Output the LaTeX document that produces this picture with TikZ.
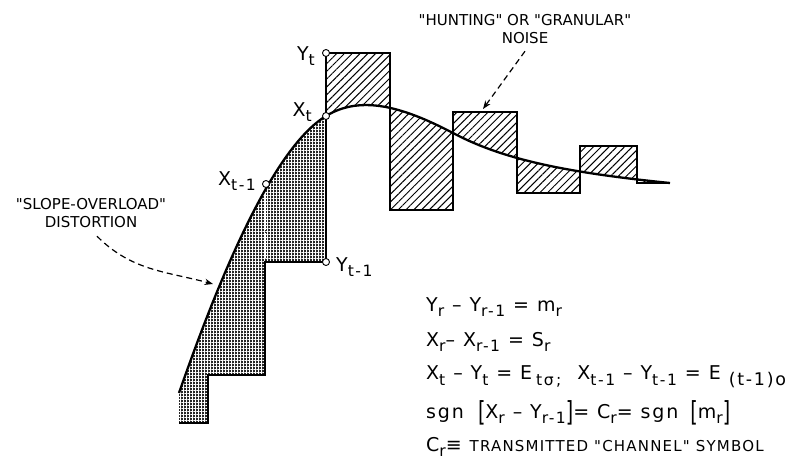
\documentclass[tikz,border=0pt]{standalone}
\usepackage{graphicx}
\usepackage{fontspec}
\newfontfamily\letterfont{DejaVu Sans}
\usetikzlibrary{arrows.meta,patterns.meta}

% lowered subscript, tall bracket
\newcommand{\sub}[1]{\raisebox{-0.55ex}{\scalebox{0.82}{#1}}}
\newcommand{\tallbr}[1]{\raisebox{-0.35ex}{\scalebox{1}[1.45]{#1}}}

\begin{document}
\begin{tikzpicture}[x=1pt, y=-1pt, >=Stealth, font=\letterfont\fontsize{15}{18}\selectfont,
    stairline/.style={line width=2.3pt, line join=miter},
    signalline/.style={line width=2.3pt},
    sample/.style={circle, draw, fill=white, line width=0.9pt, inner sep=0pt, minimum size=7pt},
    sym/.style={font=\letterfont\fontsize{19}{22}\selectfont\addfontfeature{LetterSpace=10}, inner sep=0pt},
    lead/.style={->, dash pattern=on 6pt off 4pt, line width=1.2pt}]
    \useasboundingbox (0,0) rectangle (794,468);
    % analogue signal and staircase approximation
    \def\signal{(179,393) .. controls (215,290) and (270,150) .. (326,116) .. controls (362,94) and (405,108) .. (453,133) .. controls (500,158) and (560,172) .. (670,183)}
    \def\stairs{(670,183) -- (637,183) -- (637,146) -- (580,146) -- (580,193) -- (517,193) -- (517,112) -- (453,112) -- (453,210) -- (390,210) -- (390,53) -- (326,53) -- (326,262) -- (265,262) -- (265,375) -- (208,375) -- (208,423) -- (179,423)}
    % slope overload area
    \begin{scope}
        \clip (0,0) rectangle (326,468);
        \fill[black!85] \signal -- \stairs -- cycle;
        \fill[pattern={Lines[angle=0, distance=3pt, line width=0.45pt]}, pattern color=white] \signal -- \stairs -- cycle;
        \fill[pattern={Lines[angle=90, distance=3pt, line width=0.45pt]}, pattern color=white] \signal -- \stairs -- cycle;
    \end{scope}
    \draw[white, line width=1.4pt, dash pattern=on 40pt off 3pt] (265,190) -- (265,258);
    % granular noise area
    \begin{scope}
        \clip (326,0) rectangle (794,468);
        \fill[pattern={Lines[angle=45, distance=5.5pt, line width=1pt]}] \signal -- \stairs -- cycle;
    \end{scope}
    \draw[stairline] \stairs;
    \draw[signalline] \signal;
    % sample points
    \node[sample] (yt) at (326,53) {};
    \node[sample] (xt) at (326,116) {};
    \node[sample] (xtp) at (266,184) {};
    \node[sample] (ytp) at (326,262) {};
    \node[sym, anchor=east] (ytlabel) at ([xshift=-7pt, yshift=-3pt]yt.west) {Y\sub{t}};
    \node[sym, anchor=east] (xtlabel) at ([xshift=-10pt, yshift=4pt]xt.west) {X\sub{t}};
    \node[sym, anchor=east] (xtplabel) at ([xshift=-6pt, yshift=3pt]xtp.west) {X\sub{t-1}};
    \node[sym, anchor=west] (ytplabel) at ([xshift=6pt, yshift=-5pt]ytp.east) {Y\sub{t-1}};
    % annotations
    \node[align=center] (noiselabel) at (525,29) {"HUNTING" OR "GRANULAR"\\NOISE};
    \node[align=center] (slopelabel) at (91,213) {"SLOPE-OVERLOAD"\\DISTORTION};
    \coordinate (noisetip) at (483,109);
    \coordinate (slopetip) at (213,284);
    \draw[lead] ([yshift=-4pt]noiselabel.south) -- (noisetip);
    \draw[lead] ([xshift=6pt, yshift=-5pt]slopelabel.south) to[out=-45, in=165] (slopetip);
    % relations
    \node[sym, anchor=west] (eqone) at (426,307) {Y\sub{r} – Y\sub{r-1} = m\sub{r}};
    \node[sym, anchor=west] (eqtwo) at (426,342) {X\sub{r}– X\sub{r-1} = S\sub{r}};
    \node[sym, anchor=west] (eqthree) at (426,377) {X\sub{t} – Y\sub{t} = E\hspace{4pt}\sub{tσ\hspace{3pt};}\hspace{16pt}X\sub{t-1} – Y\sub{t-1} = E\hspace{8pt}\sub{\scalebox{1.12}{(t-1)o}}};
    \node[sym, anchor=west] (eqfour) at (426,413) {sgn\hspace{14pt}\tallbr{[}X\sub{r} – Y\sub{r-1}\tallbr{]}= C\sub{r}= sgn\hspace{12pt}\tallbr{[}m\sub{r}\tallbr{]}};
    \node[sym, anchor=west] (eqfive) at (426,447) {C\sub{r}≡ {\fontsize{15}{15}\selectfont\addfontfeature{LetterSpace=8}TRANSMITTED "CHANNEL" SYMBOL}};
\end{tikzpicture}
\end{document}
